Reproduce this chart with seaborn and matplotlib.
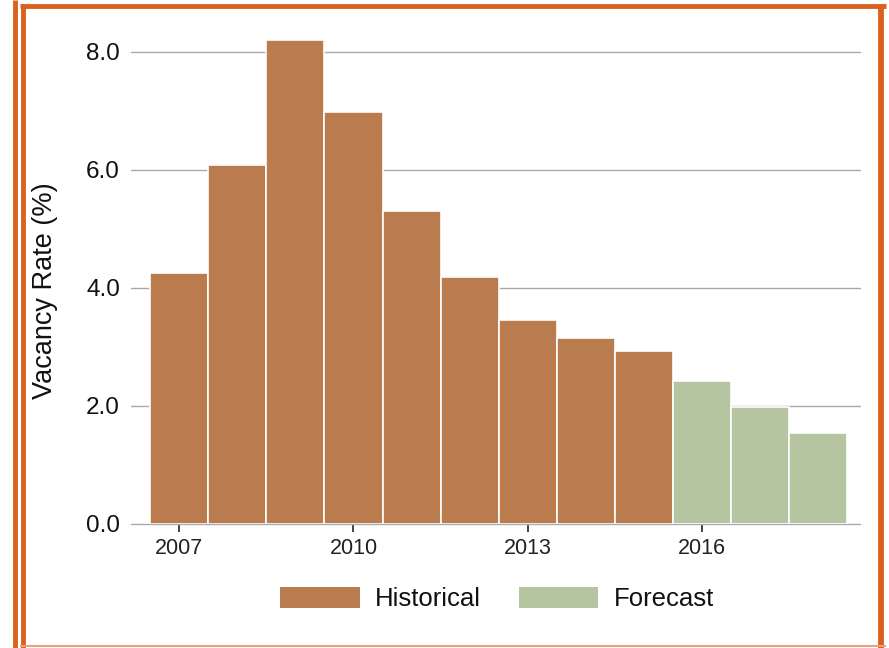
import matplotlib
matplotlib.use("Agg")
import matplotlib.pyplot as plt
from matplotlib.patches import Rectangle
from matplotlib.lines import Line2D
import seaborn as sns
import pandas as pd

years = [2007, 2008, 2009, 2010, 2011, 2012, 2013, 2014, 2015, 2016, 2017, 2018]
rates = [4.25, 6.08, 8.19, 6.98, 5.30, 4.19, 3.45, 3.15, 2.93, 2.42, 1.98, 1.54]
kinds = ["Historical"] * 9 + ["Forecast"] * 3
tick_years = [2007, 2010, 2013, 2016]
y_ticks = [0, 2, 4, 6, 8]

colores = {"Historical": "#BA7B4E", "Forecast": "#B5C4A1"}

df = pd.DataFrame({"Year": years, "Rate": rates, "Type": kinds})

sns.set_style("white")
plt.rcParams["font.family"] = ["Liberation Sans", "DejaVu Sans"]
plt.rcParams["text.color"] = "#111111"
plt.rcParams["xtick.color"] = "#222222"
plt.rcParams["ytick.color"] = "#111111"
plt.rcParams["axes.labelcolor"] = "#111111"

fig = plt.figure(figsize=(8.89, 6.48), dpi=100)
ax = fig.add_axes([131 / 889, 1 - 524 / 648, 729 / 889, 496 / 648])

sns.barplot(data=df, x="Year", y="Rate", hue="Type", native_scale=True,
            width=1, dodge=False, palette=colores, saturation=1,
            edgecolor="white", linewidth=1.2, ax=ax, legend=False, zorder=3)

ax.set_xlim(2006.17, 2018.72)
ax.set_ylim(0, 8.4)
ax.set_yticks(y_ticks)
ax.set_yticklabels([f"{v:.1f}" for v in y_ticks], fontsize=17.5)
ax.set_xticks(tick_years)
ax.set_xticklabels([str(y) for y in tick_years], fontsize=15.5)
ax.tick_params(axis="x", length=6, width=1.2, pad=4, bottom=True)
ax.tick_params(axis="y", length=0, pad=8)
ax.grid(axis="y", color="#AAAAAA", linewidth=1, zorder=0)
for gl in ax.get_ygridlines():
    gl.set_clip_on(False)
ax.set_axisbelow(True)
for s in ax.spines.values():
    s.set_visible(False)
ax.set_xlabel("")
ax.set_ylabel("Vacancy Rate (%)", fontsize=19.5)
ax.yaxis.set_label_coords(-0.1, 0.47)

handles = [Rectangle((0, 0), 1, 1, facecolor=colores[k], edgecolor="none")
           for k in ["Historical", "Forecast"]]
fig.legend(handles, ["Historical", "Forecast"], loc="center",
           bbox_to_anchor=(497 / 889, 1 - 599 / 648), ncol=2, frameon=False,
           fontsize=18.5, handlelength=3.1, handleheight=0.9,
           handletextpad=0.6, columnspacing=1.45)

# marco naranja
naranja = "#D9621E"
W, H = 889, 648
def linea(xs, ys, lw, color=naranja):
    fig.lines.append(Line2D([x / W for x in xs], [1 - y / H for y in ys],
                            transform=fig.transFigure, color=color,
                            linewidth=lw, solid_capstyle="butt"))

linea([20, 886], [5.5, 5.5], 3.5)          # arriba
linea([881, 881], [4, 648], 4.2)           # derecha
linea([22.5, 22.5], [4, 648], 3.5)         # izquierda interior
linea([14.5, 14.5], [0, 648], 3.5)         # izquierda exterior
linea([20, 886], [646, 646], 1.5, "#EBA27A")  # abajo

fig.savefig("out.png", dpi=100)
